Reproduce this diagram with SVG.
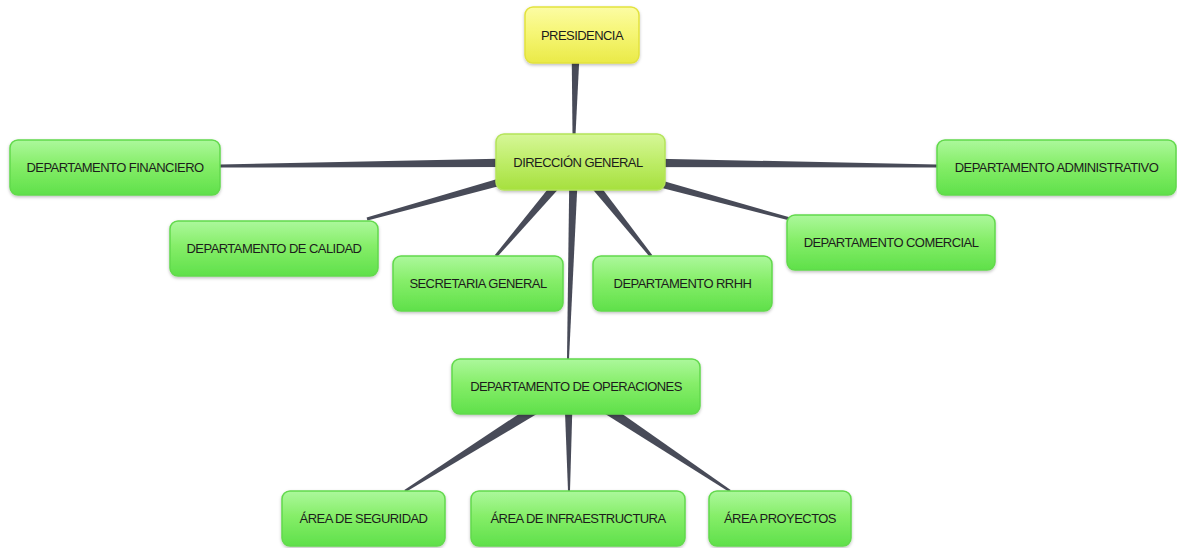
<svg xmlns="http://www.w3.org/2000/svg" width="1177" height="548" viewBox="0 0 1177 548">
  <defs>
    <linearGradient id="gGreen" x1="0" y1="0" x2="0" y2="1">
      <stop offset="0" stop-color="#acf89c"/>
      <stop offset="0.45" stop-color="#86ee69"/>
      <stop offset="1" stop-color="#5fe04a"/>
    </linearGradient>
    <linearGradient id="gLime" x1="0" y1="0" x2="0" y2="1">
      <stop offset="0" stop-color="#d6f798"/>
      <stop offset="0.45" stop-color="#c0ee6c"/>
      <stop offset="1" stop-color="#a6e03e"/>
    </linearGradient>
    <linearGradient id="gYellow" x1="0" y1="0" x2="0" y2="1">
      <stop offset="0" stop-color="#fcfca4"/>
      <stop offset="0.45" stop-color="#f6f676"/>
      <stop offset="1" stop-color="#eaea48"/>
    </linearGradient>
    <filter id="shadow" x="-10%" y="-20%" width="120%" height="150%">
      <feDropShadow dx="0" dy="1.5" stdDeviation="1.5" flood-color="#000" flood-opacity="0.25"/>
    </filter>
  </defs>
  <style>
    .box { stroke-width: 1.5; filter: url(#shadow); }
    .green { fill: url(#gGreen); stroke: #62d94c; }
    .lime { fill: url(#gLime); stroke: #b4e45a; }
    .yellow { fill: url(#gYellow); stroke: #e2e23e; }
    .label { font-family: "Liberation Sans", Arial, sans-serif; font-size: 13px; fill: #1c1c1c; text-anchor: middle; letter-spacing: -0.55px; }
    .link { fill: #484b58; }
  </style>

  <rect width="1177" height="548" fill="#ffffff"/>

  <!-- tapered connectors, wide end at the parent -->
  <g id="connectors">
    <polygon class="link" points="571.5,35 572.5,135 575.5,135 580.5,35"/>
    <polygon class="link" points="576,157 220,164.5 220,167.5 576,167"/>
    <polygon class="link" points="576,157 937,164.5 937,167.5 576,167"/>
    <polygon class="link" points="574.7,156.2 366.6,217.6 367.4,220.4 577.3,165.8"/>
    <polygon class="link" points="577.3,156.2 790.4,217.6 789.6,220.4 574.7,165.8"/>
    <polygon class="link" points="572.2,158.8 494.9,255 497.1,257 579.8,165.2"/>
    <polygon class="link" points="579.9,158.9 652.2,255.1 649.8,256.9 572.1,165.1"/>
    <polygon class="link" points="569.5,162 567,359 569,359 578.5,162"/>
    <polygon class="link" points="568.8,380.9 404.3,489.9 405.7,492.1 575.2,391.1"/>
    <polygon class="link" points="564,386 568,491 570,491 573,386"/>
    <polygon class="link" points="575.3,381 730.7,489.9 729.3,492.1 568.7,391"/>
  </g>

  <g id="presidencia">
    <rect class="box yellow" x="525" y="7" width="114" height="56" rx="8"/>
    <text class="label" x="582" y="39.5">PRESIDENCIA</text>
  </g>
  <g id="direccion-general">
    <rect class="box lime" x="496" y="134" width="169" height="56" rx="8"/>
    <text class="label" x="578" y="166.5">DIRECCIÓN GENERAL</text>
  </g>
  <g id="dep-financiero">
    <rect class="box green" x="10" y="140" width="210" height="55" rx="8"/>
    <text class="label" x="115" y="172">DEPARTAMENTO FINANCIERO</text>
  </g>
  <g id="dep-administrativo">
    <rect class="box green" x="937" y="140" width="239" height="55" rx="8"/>
    <text class="label" x="1056.5" y="172">DEPARTAMENTO ADMINISTRATIVO</text>
  </g>
  <g id="dep-calidad">
    <rect class="box green" x="170" y="221" width="208" height="55" rx="8"/>
    <text class="label" x="274" y="253">DEPARTAMENTO DE CALIDAD</text>
  </g>
  <g id="dep-comercial">
    <rect class="box green" x="787" y="215" width="208" height="55" rx="8"/>
    <text class="label" x="891" y="247">DEPARTAMENTO COMERCIAL</text>
  </g>
  <g id="secretaria-general">
    <rect class="box green" x="393" y="256" width="170" height="55" rx="8"/>
    <text class="label" x="478" y="288">SECRETARIA GENERAL</text>
  </g>
  <g id="dep-rrhh">
    <rect class="box green" x="593" y="256" width="179" height="55" rx="8"/>
    <text class="label" x="682.5" y="288">DEPARTAMENTO RRHH</text>
  </g>
  <g id="dep-operaciones">
    <rect class="box green" x="452" y="359" width="248" height="55" rx="8"/>
    <text class="label" x="576" y="391">DEPARTAMENTO DE OPERACIONES</text>
  </g>
  <g id="area-seguridad">
    <rect class="box green" x="282" y="491" width="163" height="55" rx="8"/>
    <text class="label" x="363.5" y="523">ÁREA DE SEGURIDAD</text>
  </g>
  <g id="area-infraestructura">
    <rect class="box green" x="471" y="491" width="214" height="55" rx="8"/>
    <text class="label" x="578" y="523">ÁREA DE INFRAESTRUCTURA</text>
  </g>
  <g id="area-proyectos">
    <rect class="box green" x="709" y="491" width="142" height="55" rx="8"/>
    <text class="label" x="780" y="523">ÁREA PROYECTOS</text>
  </g>
</svg>
